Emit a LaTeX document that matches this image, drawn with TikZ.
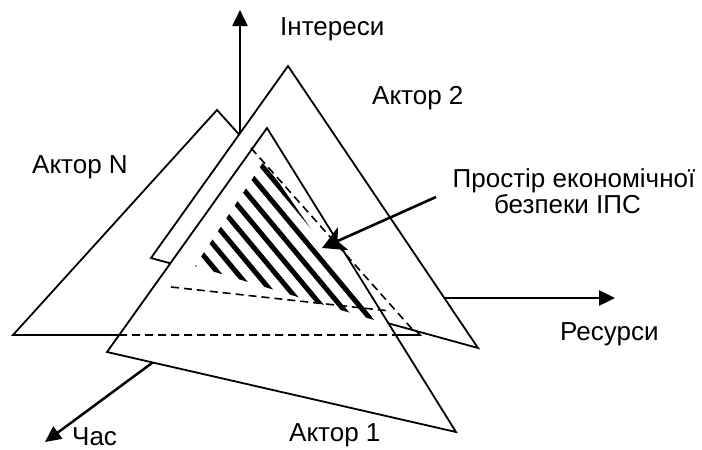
\documentclass[tikz,border=0pt]{standalone}
\usepackage{fontspec}
\setmainfont{Liberation Sans}
\usetikzlibrary{arrows.meta}
\begin{document}
\begin{tikzpicture}[x=1pt,y=-1pt,
  tri/.style={draw=black, line width=1.8pt, fill=white, line join=miter},
  axisline/.style={line width=2.5pt, -{Triangle[length=16pt,width=15pt]}},
  hid/.style={line width=1.6pt, dash pattern=on 8pt off 5pt},
  lbl/.style={font=\fontsize{26}{31}\selectfont, inner sep=0pt, anchor=base west},
  clbl/.style={font=\fontsize{26}{31}\selectfont, inner sep=0pt, anchor=base},
  stripe/.style={line width=5pt},
]
\useasboundingbox (0,0) rectangle (702,450);
% axes
\coordinate (O) at (240,298);
\coordinate (Yt) at (240,10);
\coordinate (Xt) at (615,298);
\coordinate (Zt) at (45,442);
\draw[axisline] (O) -- (Yt);
\draw[axisline] (O) -- (Xt);
\draw[axisline] (O) -- (Zt);
% triangles
\coordinate (N1) at (217,110);
\coordinate (N2) at (13,335);
\coordinate (N3) at (420,335);
\coordinate (B1) at (288,66);
\coordinate (B2) at (151,258);
\coordinate (B3) at (478,348);
\coordinate (A1) at (267,128);
\coordinate (A2) at (107,352);
\coordinate (A3) at (456,432);
\draw[tri] (N1) -- (N2) -- (N3) -- cycle;
\draw[tri] (B1) -- (B2) -- (B3) -- cycle;
\draw[tri] (A1) -- (A2) -- (A3) -- cycle;
% hidden lines
\draw[hid] (intersection of N2--N3 and A1--A2) -- (intersection of N2--N3 and A1--A3);
\coordinate (D1) at (251,148);
\coordinate (D2) at (413,330);
\coordinate (D3) at (171,287);
\coordinate (D4) at (390,311);
\draw[hid] (D1) -- (D2);
\draw[hid] (D3) -- (D4);
% hatched space
\begin{scope}
  \clip (264,161) -- (195,266) -- (374,320) -- cycle;
  \foreach \i in {0,...,9}
    \draw[stripe] ({262-8.6*\i},{166+12.5*\i}) ++(-30,-36) -- ++(300,360);
\end{scope}
% label arrow
\coordinate (Ps) at (436,197);
\coordinate (Pt) at (322,248);
\draw[line width=2.6pt, -{Stealth[length=23pt,width=25pt,inset=6pt]}] (Ps) -- (Pt);
% labels
\node[lbl] (int) at (280,35) {Інтереси};
\node[lbl] (a2) at (372,104) {Актор 2};
\node[lbl] (aN) at (32,173) {Актор N};
\node[clbl] (sp1) at (574,187) {Простір економічної};
\node[clbl] (sp2) at (567.5,213) {безпеки ІПС};
\node[lbl] (res) at (560,340) {Ресурси};
\node[lbl] (chas) at (72,445) {Час};
\node[lbl] (a1) at (289,441) {Актор 1};
\end{tikzpicture}
\end{document}
